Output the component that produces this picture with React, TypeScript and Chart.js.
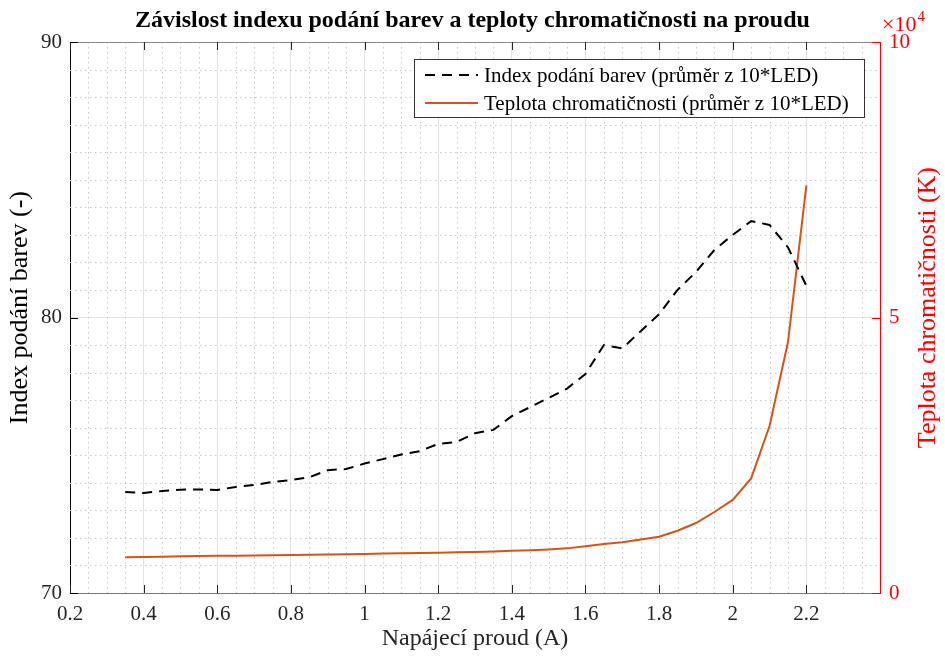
import React, { useEffect, useRef } from "react";
import { Chart, registerables } from "chart.js";

Chart.register(...registerables);

const currents = [
  0.35, 0.4, 0.45, 0.5, 0.55, 0.6, 0.65, 0.7, 0.75, 0.8, 0.85, 0.9, 0.95, 1.0,
  1.05, 1.1, 1.15, 1.2, 1.25, 1.3, 1.35, 1.4, 1.45, 1.5, 1.55, 1.6, 1.65, 1.7,
  1.75, 1.8, 1.85, 1.9, 1.95, 2.0, 2.05, 2.1, 2.15, 2.2,
];
const criValues = [
  73.67, 73.63, 73.7, 73.75, 73.76, 73.74, 73.85, 73.92, 74.03, 74.1, 74.2,
  74.46, 74.5, 74.7, 74.86, 75.03, 75.15, 75.41, 75.48, 75.8, 75.92, 76.42,
  76.75, 77.08, 77.42, 77.95, 79.0, 78.88, 79.5, 80.12, 81.0, 81.65, 82.45,
  83.0, 83.5, 83.36, 82.55, 81.15,
];
const cctValues = [
  6500, 6550, 6600, 6650, 6700, 6750, 6780, 6820, 6870, 6900, 6950, 7000, 7050,
  7100, 7150, 7200, 7250, 7300, 7380, 7450, 7550, 7650, 7750, 7900, 8100, 8500,
  8900, 9200, 9700, 10200, 11300, 12700, 14700, 16900, 20800, 30300, 45500,
  74000,
];
const xTickValues = [0.2, 0.4, 0.6, 0.8, 1.0, 1.2, 1.4, 1.6, 1.8, 2.0, 2.2];
const leftTickValues = [70, 80, 90];
const rightTickValues = [0, 50000, 100000];

const titleText = "Závislost indexu podání barev a teploty chromatičnosti na proudu";
const xTitle = "Napájecí proud (A)";
const leftTitle = "Index podání barev (-)";
const rightTitle = "Teplota chromatičnosti (K)";
const criLabel = "Index podání barev (průměr z 10*LED)";
const cctLabel = "Teplota chromatičnosti (průměr z 10*LED)";

const SERIF = "'Liberation Serif', 'Times New Roman', serif";
const AXIS = "#262626";
const RED = "#ff0000";
const ORANGE = "#d95319";

const minorGridPlugin = {
  id: "minorGrid",
  beforeDatasetsDraw(chart: any) {
    const { ctx, chartArea: a, scales } = chart;
    const x = scales.x;
    const y = scales.y;
    ctx.save();
    ctx.strokeStyle = "#c8c8c8";
    ctx.lineWidth = 1;
    ctx.setLineDash([1.5, 3.5]);
    const xmin = x.min, xmax = x.max;
    const n = Math.round((xmax - xmin) / 0.05);
    for (let i = 1; i < n; i++) {
      if (i % 4 === 0) continue;
      const px = Math.round(x.getPixelForValue(xmin + i * 0.05)) + 0.5;
      ctx.beginPath();
      ctx.moveTo(px, a.top);
      ctx.lineTo(px, a.bottom);
      ctx.stroke();
    }
    for (let v = y.min + 1; v < y.max; v++) {
      if (v % 10 === 0) continue;
      const py = Math.round(y.getPixelForValue(v)) + 0.5;
      ctx.beginPath();
      ctx.moveTo(a.left, py);
      ctx.lineTo(a.right, py);
      ctx.stroke();
    }
    ctx.restore();
  },
};

const ticksPlugin = {
  id: "insideTicks",
  afterDatasetsDraw(chart: any) {
    const { ctx, chartArea: a, scales } = chart;
    const L = 8;
    ctx.save();
    ctx.setLineDash([]);
    ctx.lineWidth = 1;
    ctx.strokeStyle = "#8a8a8a";
    ctx.beginPath();
    ctx.moveTo(a.left, a.top + 0.5);
    ctx.lineTo(a.right, a.top + 0.5);
    ctx.stroke();
    ctx.strokeStyle = AXIS;
    scales.x.ticks.forEach((t: any) => {
      const px = Math.round(scales.x.getPixelForValue(t.value)) + 0.5;
      ctx.beginPath();
      ctx.moveTo(px, a.bottom);
      ctx.lineTo(px, a.bottom - L);
      ctx.moveTo(px, a.top);
      ctx.lineTo(px, a.top + L);
      ctx.stroke();
    });
    ctx.strokeStyle = "#000";
    scales.y.ticks.forEach((t: any) => {
      const py = Math.round(scales.y.getPixelForValue(t.value)) + 0.5;
      ctx.beginPath();
      ctx.moveTo(a.left, py);
      ctx.lineTo(a.left + L, py);
      ctx.stroke();
    });
    ctx.strokeStyle = RED;
    scales.y1.ticks.forEach((t: any) => {
      const py = Math.round(scales.y1.getPixelForValue(t.value)) + 0.5;
      ctx.beginPath();
      ctx.moveTo(a.right, py);
      ctx.lineTo(a.right - L, py);
      ctx.stroke();
    });
    ctx.restore();
  },
};

const annotationsPlugin = {
  id: "extras",
  afterDraw(chart: any) {
    const { ctx, chartArea: a } = chart;
    ctx.save();
    // exponent label
    ctx.fillStyle = RED;
    ctx.textBaseline = "alphabetic";
    ctx.textAlign = "left";
    ctx.font = `22px ${SERIF}`;
    ctx.fillText("\u00d710", a.right + 2, a.top - 11);
    const w = ctx.measureText("\u00d710").width;
    ctx.font = `15px ${SERIF}`;
    ctx.fillText("4", a.right + 2 + w + 1, a.top - 21);

    // vertical axis titles (both read bottom-to-top)
    const cy = a.top + (a.bottom - a.top) * 0.482;
    ctx.font = `26px ${SERIF}`;
    ctx.textAlign = "center";
    ctx.textBaseline = "middle";
    ctx.save();
    ctx.translate(20.5, cy);
    ctx.rotate(-Math.PI / 2);
    ctx.fillStyle = "#000";
    ctx.fillText(leftTitle, 0, 0);
    ctx.restore();
    ctx.save();
    ctx.translate(928.5, cy);
    ctx.rotate(-Math.PI / 2);
    ctx.fillStyle = RED;
    ctx.fillText(rightTitle, 0, 0);
    ctx.restore();

    // legend
    const bx = a.right - 466;
    const by = a.top + 17;
    const bw = 450;
    const bh = 58;
    ctx.fillStyle = "#ffffff";
    ctx.fillRect(bx, by, bw, bh);
    ctx.strokeStyle = "#333333";
    ctx.lineWidth = 1;
    ctx.strokeRect(bx + 0.5, by + 0.5, bw, bh);
    const ds = chart.data.datasets;
    const rows = [by + 16, by + 44];
    ds.forEach((d: any, i: number) => {
      ctx.save();
      ctx.strokeStyle = d.borderColor;
      ctx.lineWidth = d.borderWidth;
      ctx.setLineDash(d.borderDash || []);
      ctx.beginPath();
      ctx.moveTo(bx + 11, rows[i]);
      ctx.lineTo(bx + 64, rows[i]);
      ctx.stroke();
      ctx.restore();
      ctx.fillStyle = "#000";
      ctx.font = `21px ${SERIF}`;
      ctx.textBaseline = "middle";
      ctx.textAlign = "left";
      ctx.fillText(d.label, bx + 70, rows[i] + 1);
    });
    ctx.restore();
  },
};

export default function App() {
  const ref = useRef<HTMLCanvasElement | null>(null);
  useEffect(() => {
    if (!ref.current) return;
    const chart = new Chart(ref.current, {
      type: "line",
      data: {
        datasets: [
          {
            label: criLabel,
            data: currents.map((x, i) => ({ x, y: criValues[i] })),
            yAxisID: "y",
            borderColor: "#000000",
            borderWidth: 2,
            borderDash: [10, 7],
            pointRadius: 0,
            fill: false,
            tension: 0,
          },
          {
            label: cctLabel,
            data: currents.map((x, i) => ({ x, y: cctValues[i] })),
            yAxisID: "y1",
            borderColor: ORANGE,
            borderWidth: 2,
            pointRadius: 0,
            fill: false,
            tension: 0,
          },
        ],
      },
      options: {
        responsive: false,
        animation: false,
        events: [],
        layout: { padding: 0 },
        plugins: {
          legend: { display: false },
          tooltip: { enabled: false },
          title: {
            display: true,
            text: titleText,
            color: "#000",
            font: { family: SERIF, size: 24, weight: "bold", lineHeight: 1.2 },
            padding: { top: 6, bottom: 7.2 },
          },
        },
        scales: {
          x: {
            type: "linear",
            position: "bottom",
            min: 0.2,
            max: 2.4,
            afterBuildTicks: (s: any) => {
              s.ticks = xTickValues.map((v) => ({ value: v }));
            },
            afterFit: (s: any) => {
              s.height = 64;
            },
            grid: { color: "#e3e3e3", lineWidth: 1, drawTicks: false },
            border: { display: true, color: "#7a7a7a", width: 1 },
            ticks: {
              color: AXIS,
              padding: 9,
              maxRotation: 0,
              autoSkip: false,
              font: { family: SERIF, size: 21 },
              callback: (v: any) => String(Math.round(Number(v) * 10) / 10),
            },
            title: {
              display: true,
              text: xTitle,
              color: AXIS,
              font: { family: SERIF, size: 24, lineHeight: 1 },
              padding: { top: 0, bottom: 6 },
            },
          },
          y: {
            type: "linear",
            position: "left",
            min: 70,
            max: 90,
            afterBuildTicks: (s: any) => {
              s.ticks = leftTickValues.map((v) => ({ value: v }));
            },
            afterFit: (s: any) => {
              s.width = 70;
            },
            grid: { color: "#e3e3e3", lineWidth: 1, drawTicks: false },
            border: { display: true, color: "#000", width: 1 },
            ticks: {
              color: AXIS,
              padding: 8,
              font: { family: SERIF, size: 21 },
            },
            title: { display: false },
          },
          y1: {
            type: "linear",
            position: "right",
            min: 0,
            max: 100000,
            afterBuildTicks: (s: any) => {
              s.ticks = rightTickValues.map((v) => ({ value: v }));
            },
            afterFit: (s: any) => {
              s.width = 65;
            },
            grid: { display: false, drawTicks: false },
            border: { display: true, color: RED, width: 1 },
            ticks: {
              color: RED,
              padding: 9,
              font: { family: SERIF, size: 21 },
              callback: (v: any) => String(Number(v) / 10000),
            },
            title: { display: false },
          },
        },
      },
      plugins: [minorGridPlugin, ticksPlugin, annotationsPlugin],
    } as any);
    return () => chart.destroy();
  }, []);

  return (
    <div
      style={{
        position: "fixed",
        left: 0,
        top: 0,
        width: 945,
        height: 657,
        background: "#ffffff",
      }}
    >
      <canvas ref={ref} width={945} height={657} style={{ display: "block" }} />
    </div>
  );
}
